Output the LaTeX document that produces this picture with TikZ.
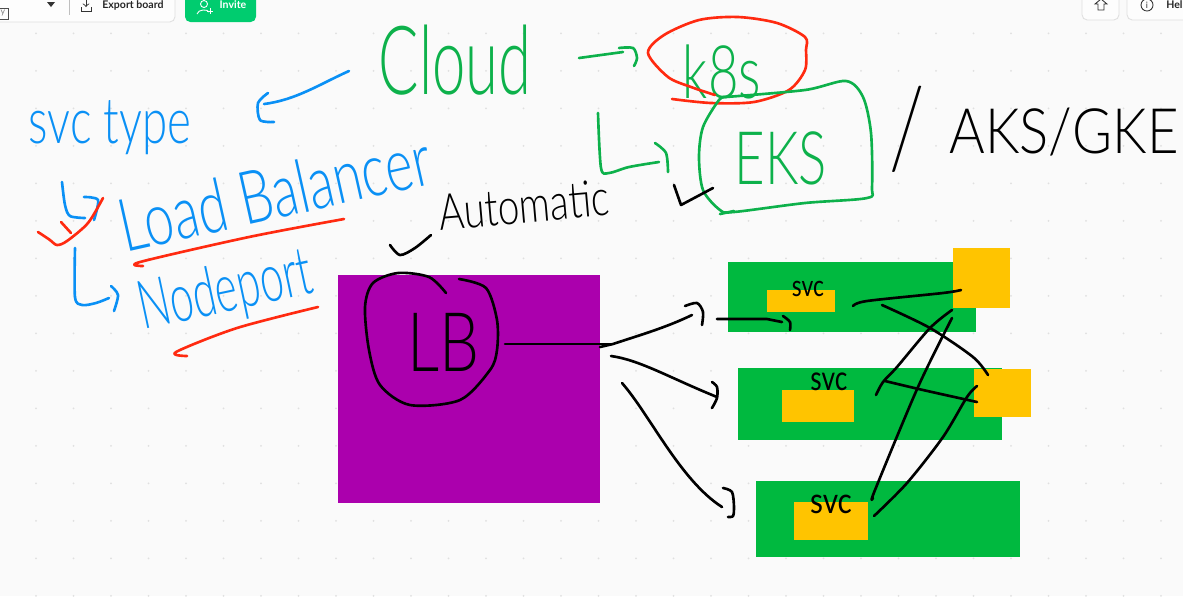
\documentclass[tikz,border=0pt]{standalone}
\usepackage{fontspec}
\setmainfont{Lato}
\newfontfamily\handfont{Lato Light}
\definecolor{boardbg}{HTML}{FAFAFA}
\definecolor{griddot}{HTML}{E0E0E0}
\definecolor{lbpurple}{HTML}{AB00AD}
\definecolor{podgreen}{HTML}{00B93F}
\definecolor{svcyellow}{HTML}{FFC400}
\definecolor{penblue}{HTML}{0A90F5}
\definecolor{pengreen}{HTML}{0DB14B}
\definecolor{penred}{HTML}{FF2A10}
\definecolor{invitegreen}{HTML}{00CC6F}
\tikzset{
  pen/.style={line width=1.5pt,line cap=round,line join=round},
  hand/.style={inner sep=0pt,font=\handfont\fontsize{#1}{#1}\selectfont},
  smallhand/.style={inner sep=0pt,font=\fontsize{#1}{#1}\selectfont},
  ui/.style={inner sep=0pt,font=\fontsize{6}{6}\selectfont\bfseries},
  podbox/.style={fill=podgreen,inner sep=0pt,anchor=north west},
  svcbox/.style={fill=svcyellow,inner sep=0pt,anchor=north west},
  toolbtn/.style={fill=white!60!boardbg,draw=black!12,line width=0.5pt,rounded corners=3pt}
}
\begin{document}
\begin{tikzpicture}[x=0.02cm,y=-0.02cm]
\useasboundingbox (0,0) rectangle (1183,596);
\clip (0,0) rectangle (1183,596);
\fill[boardbg] (0,0) rectangle (1183,596);
%grid dots
\foreach \i in {0,...,31}
  \foreach \j in {0,...,15}
    \fill[griddot] ({36+37.5*\i},{33.3+37.5*\j}) circle (1);
%toolbar
\draw[toolbtn] (-10,-10) rectangle (175,22);
\draw[black!25,line width=0.5pt] (69,-5) -- (69,15);
\fill[black!80] (47,2) -- (55,2) -- (51,7) -- cycle;
\draw[black!70,line width=0.5pt] (-5,8) rectangle (8,19);
\node[inner sep=0pt,font=\fontsize{5}{5}\selectfont,text=black!50] (tinyy) at (3,13) {y};
\draw[black!80,line width=0.5pt,->] (86,-2) -- (86,7);
\draw[black!80,line width=0.5pt] (81,7) -- (81,11) -- (91,11) -- (91,7);
\node[ui,text=black!85] (exportboard) at (133,5) {Export board};
\fill[invitegreen,rounded corners=3pt] (185,-10) rectangle (256,22);
\draw[white,line width=0.5pt] (204,4) circle (3.5) (197,14) .. controls (198,9) and (208,9) .. (209,12);
\draw[white,line width=0.5pt] (207,11) -- (213,11) (210,8) -- (210,14);
\node[ui,text=white] (invite) at (233,5) {Invite};
\draw[toolbtn] (1082,-10) rectangle (1119,20);
\draw[toolbtn] (1127,-10) rectangle (1200,20);
\draw[black!80,line width=0.5pt] (1095,4) -- (1101,-1) -- (1107,4) -- (1104,4) -- (1104,10) -- (1098,10) -- (1098,4) -- cycle;
\draw[black!80,line width=0.5pt] (1147,5) circle (6);
\node[inner sep=0pt,font=\fontsize{5}{5}\selectfont,text=black!80] (infoi) at (1147,5) {i};
\node[ui,text=black!85,anchor=west] (help) at (1166,5) {Hel};
%boxes
\node[fill=lbpurple,inner sep=0pt,anchor=north west,minimum width=5.24cm,minimum height=4.56cm] (lbbox) at (338,275) {};
\node[podbox,minimum width=4.96cm,minimum height=1.4cm] (podA) at (728,262) {};
\node[podbox,minimum width=5.28cm,minimum height=1.44cm] (podB) at (738,368) {};
\node[podbox,minimum width=5.28cm,minimum height=1.52cm] (podC) at (756,481) {};
\node[svcbox,minimum width=1.36cm,minimum height=0.44cm] (svcboxA) at (767,290) {};
\node[svcbox,minimum width=1.44cm,minimum height=0.64cm] (svcboxB) at (782,390) {};
\node[svcbox,minimum width=1.48cm,minimum height=0.76cm] (svcboxC) at (794,502) {};
\node[svcbox,minimum width=1.14cm,minimum height=1.2cm] (nodeA) at (953,248) {};
\node[svcbox,minimum width=1.14cm,minimum height=0.96cm] (nodeB) at (974,369) {};
%words
\node[hand=34,text=pengreen,yscale=1.6] (cloud) at (455,60) {Cloud};
\node[hand=30,text=pengreen,yscale=1.4] (keights) at (722,72) {k8s};
\node[hand=30,text=pengreen,yscale=1.4] (eks) at (781,158) {EKS};
\node[hand=31,yscale=1.15] (others) at (1064,132) {AKS/GKE};
\node[hand=36,yscale=1.9,rotate=-8] (slash) at (907,129) {/};
\node[hand=26,text=penblue,yscale=1.4] (svctype) at (110,128) {svc type};
\node[hand=30,text=penblue,rotate=12.6,yscale=1.4] (loadbal) at (275,192) {Load Balancer};
\node[hand=24,text=penblue,rotate=12,yscale=1.6] (nodeport) at (226,293) {Nodeport};
\node[hand=22,rotate=5,yscale=1.3] (automatic) at (524,205) {Automatic};
\node[hand=36,yscale=1.3] (lb) at (443,342) {LB};
\node[smallhand=13,yscale=1.3] (svcA) at (808,289) {svc};
\node[smallhand=15,yscale=1.3] (svcB) at (829,382) {svc};
\node[smallhand=17,yscale=1.2] (svcC) at (831,504) {svc};
%blue strokes
\coordinate (cloudtail) at (349,71);
\coordinate (typehead) at (264,104);
\draw[pen,penblue] (cloudtail) .. controls (320,84) and (296,100) .. (typehead);
\draw[pen,penblue] plot[smooth] coordinates {(268,93) (258,103) (260,120) (274,122)};
\draw[pen,penblue] plot[smooth] coordinates {(62,182) (65,205) (70,216) (85,218)};
\draw[pen,penblue] plot[smooth] coordinates {(84,197) (98,200) (94,220)};
\draw[pen,penblue] plot[smooth] coordinates {(75,248) (75,297) (82,305) (96,303) (109,298)};
\draw[pen,penblue] plot[smooth] coordinates {(111,286) (118,295) (114,311)};
%red strokes
\draw[pen,penred] plot[smooth] coordinates {(38,232) (50,240) (57,245) (67,241) (88,223) (103,198)};
\draw[pen,penred] (61,222) -- (71,233);
\draw[pen,penred] plot[smooth] coordinates {(344,219) (249,237) (140,262) (143,266)};
\draw[pen,penred] plot[smooth] coordinates {(318,307) (237,328) (176,352) (187,356)};
\draw[pen,penred] plot[smooth] coordinates {(715,95) (691,87) (668,77) (648,53) (664,35) (699,20) (738,17) (777,23) (805,37) (806,50) (805,70) (789,90) (754,102) (711,103) (672,99)};
%green strokes
\coordinate (cloudright) at (579,58);
\coordinate (keightshead) at (623,52);
\draw[pen,pengreen] (cloudright) -- (keightshead);
\draw[pen,pengreen] plot[smooth] coordinates {(619,48) (633,48) (637,58) (634,66)};
\draw[pen,pengreen] plot[smooth] coordinates {(598,113) (601,168) (609,173) (629,167) (659,162)};
\draw[pen,pengreen] plot[smooth] coordinates {(655,143) (666,153) (668,172)};
\draw[pen,pengreen] plot[smooth] coordinates {(726,97) (719,100) (703,127) (699,157) (703,190) (720,210) (734,212) (805,203) (867,198) (872,187) (871,133) (863,97) (846,81) (805,90) (726,97)};
\draw[pen,pengreen] (720,214) -- (734,211);
%black ticks
\draw[pen] plot[smooth] coordinates {(431,235) (415,248) (400,255) (390,245)};
\draw[pen] (674,185) -- (681,205) -- (713,188);
\draw[pen] plot[smooth] coordinates {(446,293) (429,277) (398,273) (373,283) (365,307) (369,350) (380,385) (410,405) (460,400) (490,370) (497,350) (497,320) (486,288) (459,279)};
%load balancer to pods
\coordinate (lbrim) at (505,344);
\coordinate (fork) at (613,344);
\coordinate (armAhead) at (692,315);
\coordinate (armBtail) at (611,356);
\coordinate (armBhead) at (717,397);
\coordinate (armCtail) at (622,383);
\coordinate (armChead) at (722,507);
\draw[pen] (lbrim) -- (fork);
\draw[pen] (600,347) -- (fork) .. controls (640,335) and (665,328) .. (armAhead);
\draw[pen] plot[smooth] coordinates {(685,306) (697,303) (703,312) (702,325)};
\draw[pen] (armBtail) .. controls (640,360) and (670,378) .. (armBhead);
\draw[pen] plot[smooth] coordinates {(712,382) (717,387) (717,398) (712,408)};
\draw[pen] (armCtail) .. controls (650,415) and (680,480) .. (armChead);
\draw[pen] plot[smooth] coordinates {(723,488) (732,492) (734,507) (733,516) (728,517)};
%pod to service
\coordinate (podtail) at (717,319);
\coordinate (svchead) at (782,322);
\draw[pen] (podtail) -- (767,319) -- (svchead);
\draw[pen] plot[smooth] coordinates {(783,316) (790,322) (790,330)};
%services to nodes
\draw[pen] plot[smooth] coordinates {(853,306) (867,301) (943,293) (961,290)};
\draw[pen] plot[smooth] coordinates {(882,305) (930,328) (973,357) (988,375)};
\draw[pen] plot[smooth] coordinates {(876,395) (883,382) (897,367) (930,328) (952,310)};
\draw[pen] plot[smooth] coordinates {(885,381) (923,390) (977,402)};
\draw[pen] plot[smooth] coordinates {(873,498) (875,490) (918,387) (952,318)};
\draw[pen] plot[smooth] coordinates {(874,516) (907,483) (943,437) (967,397) (977,386)};
\end{tikzpicture}
\end{document}
